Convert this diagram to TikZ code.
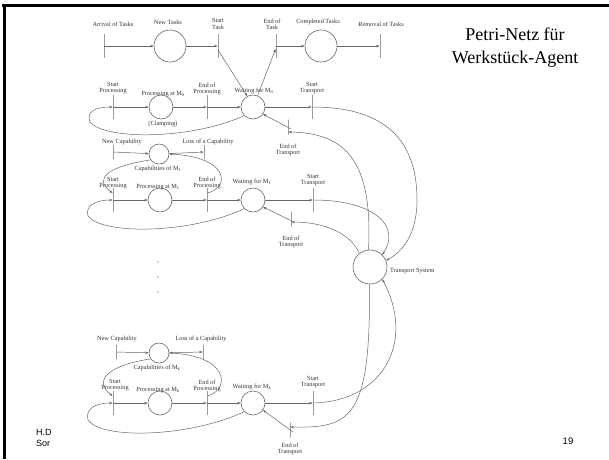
\documentclass[tikz,border=0pt]{standalone}
\usepackage{fontspec}
\setmainfont{Liberation Serif}
\newfontfamily\arialf{Liberation Sans}
\usetikzlibrary{arrows.meta}
\begin{document}
\begin{tikzpicture}[x=1pt,y=-1pt,
  every node/.style={inner sep=0pt},
  lbl/.style={font=\fontsize{6.3}{6.3}\selectfont, align=center, text=black!80},
  pl/.style={circle, draw=black!60, line width=0.6pt, minimum size=24pt},
  bigpl/.style={pl, minimum size=32pt},
  cappl/.style={pl, minimum size=20pt},
  tbar/.style={rectangle, draw=black!60, line width=0.8pt, minimum width=0pt, minimum height=#1},
  tbar/.default=24pt,
  conn/.style={draw=black!60, line width=0.5pt, -{Stealth[length=3.5pt,width=2.5pt]}},
  dotn/.style={circle, fill=black!70, minimum size=1.2pt}
]
\useasboundingbox (0,0) rectangle (609,459);
% slide frame
\draw[line width=3pt] (2,5) -- (609,5);
\draw[line width=3pt] (4,3.5) -- (4,459);

% title
\node[font=\fontsize{18}{23}\selectfont, align=center] (title) at (515,48) {Petri-Netz für\\Werkstück-Agent};

% footer
\node[font=\arialf\fontsize{9}{10}\selectfont, anchor=west] (f1) at (36,432) {H.D};
\node[font=\arialf\fontsize{9}{10}\selectfont, anchor=west] (f2) at (36,443) {Sor};
\node[font=\arialf\fontsize{9.5}{10}\selectfont] (pg) at (568,441) {19};

% ---------- top row ----------
\node[tbar] (arr) at (104,46) {};
\node[bigpl] (nt) at (170,46) {};
\node[tbar] (st) at (218,46) {};
\node[tbar] (et) at (276,46) {};
\node[bigpl] (ct) at (321,46) {};
\node[tbar] (rt) at (380,46) {};
\node[lbl] (larr) at (113,24) {Arrival of Tasks};
\node[lbl] (lnt) at (168,22) {New Tasks};
\node[lbl] (lst) at (218,24) {Start\\Task};
\node[lbl] (let) at (272,24) {End of\\Task};
\node[lbl] (lct) at (318,22) {Completed Tasks};
\node[lbl] (lrt) at (381,24) {Removal of Tasks};
\draw[conn] (arr) -- (nt);
\draw[conn] (nt) -- (st);
\draw[conn] (et) -- (ct);
\draw[conn] (ct) -- (rt);

% ---------- M0 row ----------
\node[tbar] (sp0) at (113,107) {};
\node[pl] (p0) at (161,107) {};
\node[tbar] (ep0) at (207,107) {};
\node[pl] (w0) at (253,107) {};
\node[tbar] (stt0) at (312,107) {};
\node[tbar=15pt] (ett0) at (288,127) {};
\node[lbl] (lsp0) at (113,88) {Start\\Processing};
\node[lbl] (lp0) at (163,94) {Processing at M\textsubscript{0}};
\node[lbl] (lcl) at (163,124) {(Clamping)};
\node[lbl] (lep0) at (207,89) {End of\\Processing};
\node[lbl] (lw0) at (254,91) {Waiting for M\textsubscript{0}};
\node[lbl] (lstt0) at (312,88) {Start\\Transport};
\node[lbl] (lett0) at (288,150) {End of\\Transport};
\draw[conn] (sp0) -- (p0);
\draw[conn] (p0) -- (ep0);
\draw[conn] (ep0) -- (w0);
\draw[conn] (w0) -- (stt0);
\draw[conn] ([yshift=-4pt]st.center) -- (w0.118);
\draw[conn] (w0.68) -- ([yshift=-3pt]et.west);
\draw[conn] (w0.225) .. controls (190,140) and (105,140) .. (90,122) .. controls (86,112) and (95,107) .. (sp0.west);
\draw[conn] ([xshift=3pt,yshift=-2pt]ett0.center) -- (w0.-35);

% ---------- Transport system ----------
\node[pl, minimum size=34pt] (ts) at (370,267) {};
\node[lbl, anchor=west] (lts) at (390,271) {Transport System};

\draw[conn] (stt0.east) .. controls (395,107) and (417,150) .. (417,200) .. controls (417,235) and (402,252) .. (ts.22);
\draw[conn] (ts.95) .. controls (373,160) and (345,133) .. ([yshift=-5pt]ett0.east);

% ---------- M1 capabilities ----------
\node[tbar=14pt] (nc1) at (113,152) {};
\node[cappl] (cap1) at (159,154) {};
\node[tbar=14pt] (lc1) at (204,152) {};
\node[lbl] (lnc1) at (122,142) {New Capability};
\node[lbl] (llc1) at (208,142) {Loss of a Capability};
\node[lbl] (lcap1) at (158,169) {Capabilities of M\textsubscript{1}};
\draw[conn] (nc1) -- (cap1);
\draw[conn] (cap1) -- (lc1);

% ---------- M1 row ----------
\node[tbar] (sp1) at (113,200) {};
\node[pl] (p1) at (160,200) {};
\node[tbar] (ep1) at (207,200) {};
\node[pl] (w1) at (253,200) {};
\node[tbar] (stt1) at (313,200) {};
\node[tbar=15pt] (ett1) at (291,219) {};
\node[lbl] (lsp1) at (113,183) {Start\\Processing};
\node[lbl] (lp1) at (158,187) {Processing at M\textsubscript{1}};
\node[lbl] (lep1) at (207,183) {End of\\Processing};
\node[lbl] (lw1) at (252,182) {Waiting for M\textsubscript{1}};
\node[lbl] (lstt1) at (313,180) {Start\\Transport};
\node[lbl] (lett1) at (291,242) {End of\\Transport};
\draw[conn] (sp1) -- (p1);
\draw[conn] (p1) -- (ep1);
\draw[conn] (ep1) -- (w1);
\draw[conn] (w1) -- (stt1);
\draw[conn] (cap1.215) .. controls (110,166) and (92,178) .. ([yshift=7pt]sp1.west);
\draw[conn] ([yshift=7pt]ep1.east) .. controls (230,188) and (230,157) .. (cap1.east);
\draw[conn] (w1.225) .. controls (190,234) and (102,235) .. (88,216) .. controls (85,206) and (95,200) .. (sp1.west);
\draw[conn] ([xshift=3pt,yshift=-3pt]ett1.center) -- (w1.-35);
\draw[conn] (stt1.east) .. controls (372,200) and (402,225) .. (ts.45);
\draw[conn] (ts.128) .. controls (350,232) and (322,222) .. ([yshift=-3pt]ett1.east);

% dots
\node[dotn] (d1) at (158,262) {};
\node[dotn] (d2) at (158,277) {};
\node[dotn] (d3) at (158,292) {};

% ---------- Mk capabilities ----------
\node[tbar=14pt] (nck) at (116,352) {};
\node[cappl] (capk) at (159,353) {};
\node[tbar=14pt] (lck) at (203,352) {};
\node[lbl] (lnck) at (117,339) {New Capability};
\node[lbl] (llck) at (201,339) {Loss of a Capability};
\node[lbl] (lcapk) at (157,368) {Capabilities of M\textsubscript{k}};
\draw[conn] (nck) -- (capk);
\draw[conn] (capk) -- (lck);

% ---------- Mk row ----------
\node[tbar] (spk) at (113,403) {};
\node[pl] (pk) at (160,403) {};
\node[tbar] (epk) at (207,403) {};
\node[pl] (wk) at (253,403) {};
\node[tbar] (sttk) at (313,403) {};
\node[tbar=15pt] (ettk) at (290,430) {};
\node[lbl] (lspk) at (115,385) {Start\\Processing};
\node[lbl] (lpk) at (158,390) {Processing at M\textsubscript{k}};
\node[lbl] (lepk) at (207,386) {End of\\Processing};
\node[lbl] (lwk) at (252,387) {Waiting for M\textsubscript{k}};
\node[lbl] (lsttk) at (313,382) {Start\\Transport};
\node[lbl] (lettk) at (290,449) {End of\\Transport};
\draw[conn] (spk) -- (pk);
\draw[conn] (pk) -- (epk);
\draw[conn] (epk) -- (wk);
\draw[conn] (wk) -- (sttk);
\draw[conn] (capk.215) .. controls (110,365) and (92,380) .. ([yshift=7pt]spk.west);
\draw[conn] ([yshift=7pt]epk.east) .. controls (230,390) and (230,356) .. (capk.east);
\draw[conn] (wk.225) .. controls (190,437) and (102,440) .. (88,420) .. controls (85,409) and (95,403) .. (spk.west);
\draw[conn] ([xshift=3pt,yshift=-2pt]ettk.center) -- (wk.-35);
\draw[conn] (sttk.east) .. controls (385,401) and (415,340) .. (ts.-45);
\draw[conn] (ts.-92) .. controls (371,420) and (350,428) .. ([yshift=3pt]ettk.east);
\end{tikzpicture}
\end{document}
